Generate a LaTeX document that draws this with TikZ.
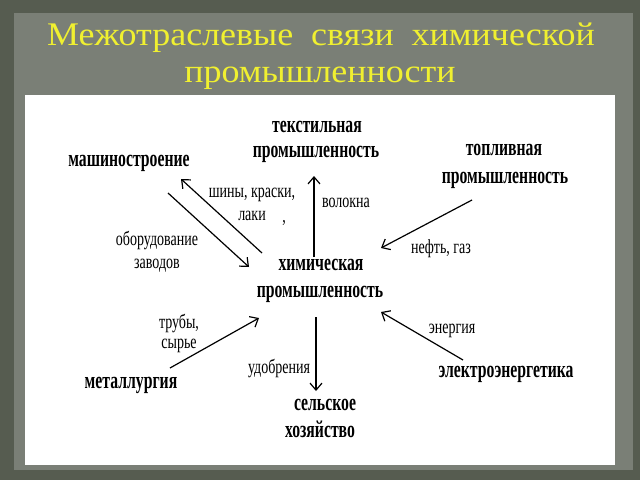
\documentclass[tikz,border=0pt]{standalone}
\usepackage{fontspec}
\usetikzlibrary{arrows.meta}
\setmainfont{Liberation Serif}
\newfontfamily\titlefont[FakeStretch=1.09]{Liberation Serif}
\newfontfamily\condfont[FakeStretch=0.7]{Liberation Serif}
\newfontfamily\boldcondfont[FakeStretch=0.655]{Liberation Serif}
\definecolor{outerbg}{RGB}{86,92,80}
\definecolor{panelbg}{RGB}{122,127,118}
\definecolor{titleyellow}{RGB}{240,240,48}
\tikzset{
  sector/.style={font=\boldcondfont\bfseries\fontsize{24}{25}\selectfont, inner sep=0pt, anchor=base},
  flowlabel/.style={font=\condfont\fontsize{20}{21}\selectfont, inner sep=0pt, anchor=base},
  titletext/.style={font=\titlefont\fontsize{33}{37}\selectfont, text=titleyellow, inner sep=0pt, anchor=base},
  flow/.style={line width=1.2pt, -{Straight Barb[length=7pt,width=12pt,line width=1.2pt]}}
}
\begin{document}
\begin{tikzpicture}[x=1pt,y=-1pt]
\useasboundingbox (0,0) rectangle (640,480);
\fill[outerbg] (0,0) rectangle (640,480);
\fill[panelbg] (14,13) rectangle (633,470);
\fill[white] (25,95) rectangle (615,465);
% title
\node[titletext] (t1) at (321,45) {Межотраслевые\ \ связи\ \ химической};
\node[titletext] (t2) at (320,82) {промышленности};
% sectors
\node[sector] (mash) at (129,166) {машиностроение};
\node[sector] (tex1) at (317,132) {текстильная};
\node[sector] (tex2) at (316,157) {промышленность};
\node[sector] (fuel1) at (504,155) {топливная};
\node[sector] (fuel2) at (505,183) {промышленность};
\node[sector] (chem1) at (321,270) {химическая};
\node[sector] (chem2) at (320,297) {промышленность};
\node[sector] (met) at (131,388) {металлургия};
\node[sector] (agr1) at (325,410) {сельское};
\node[sector] (agr2) at (320,437) {хозяйство};
\node[sector] (el) at (506,377) {электроэнергетика};
% labels
\node[flowlabel] (l1) at (252,197) {шины, краски,};
\node[flowlabel] (l2) at (252,220) {лаки};
\node[flowlabel] (comma) at (284,222) {,};
\node[flowlabel] (l3) at (157,245) {оборудование};
\node[flowlabel] (l4) at (157,268) {заводов};
\node[flowlabel] (l5) at (346,207) {волокна};
\node[flowlabel] (l6) at (441,253) {нефть, газ};
\node[flowlabel] (l7) at (179,328) {трубы,};
\node[flowlabel] (l8) at (179,348) {сырье};
\node[flowlabel] (l9) at (279,373) {удобрения};
\node[flowlabel] (l10) at (452,333) {энергия};
% arrow end points
\coordinate (a1s) at (262,253); \coordinate (a1e) at (181,179);
\coordinate (a2s) at (168,193); \coordinate (a2e) at (249,267);
\coordinate (a3s) at (314,257); \coordinate (a3e) at (314,176);
\coordinate (a4s) at (472,200); \coordinate (a4e) at (381,248);
\coordinate (a5s) at (170,368); \coordinate (a5e) at (259,318);
\coordinate (a6s) at (316,317); \coordinate (a6e) at (316,391);
\coordinate (a7s) at (463,360); \coordinate (a7e) at (381,312);
\draw[flow] (a1s) -- (a1e);
\draw[flow] (a2s) -- (a2e);
\draw[flow] (a3s) -- (a3e);
\draw[flow] (a4s) -- (a4e);
\draw[flow] (a5s) -- (a5e);
\draw[flow] (a6s) -- (a6e);
\draw[flow] (a7s) -- (a7e);
\end{tikzpicture}
\end{document}
